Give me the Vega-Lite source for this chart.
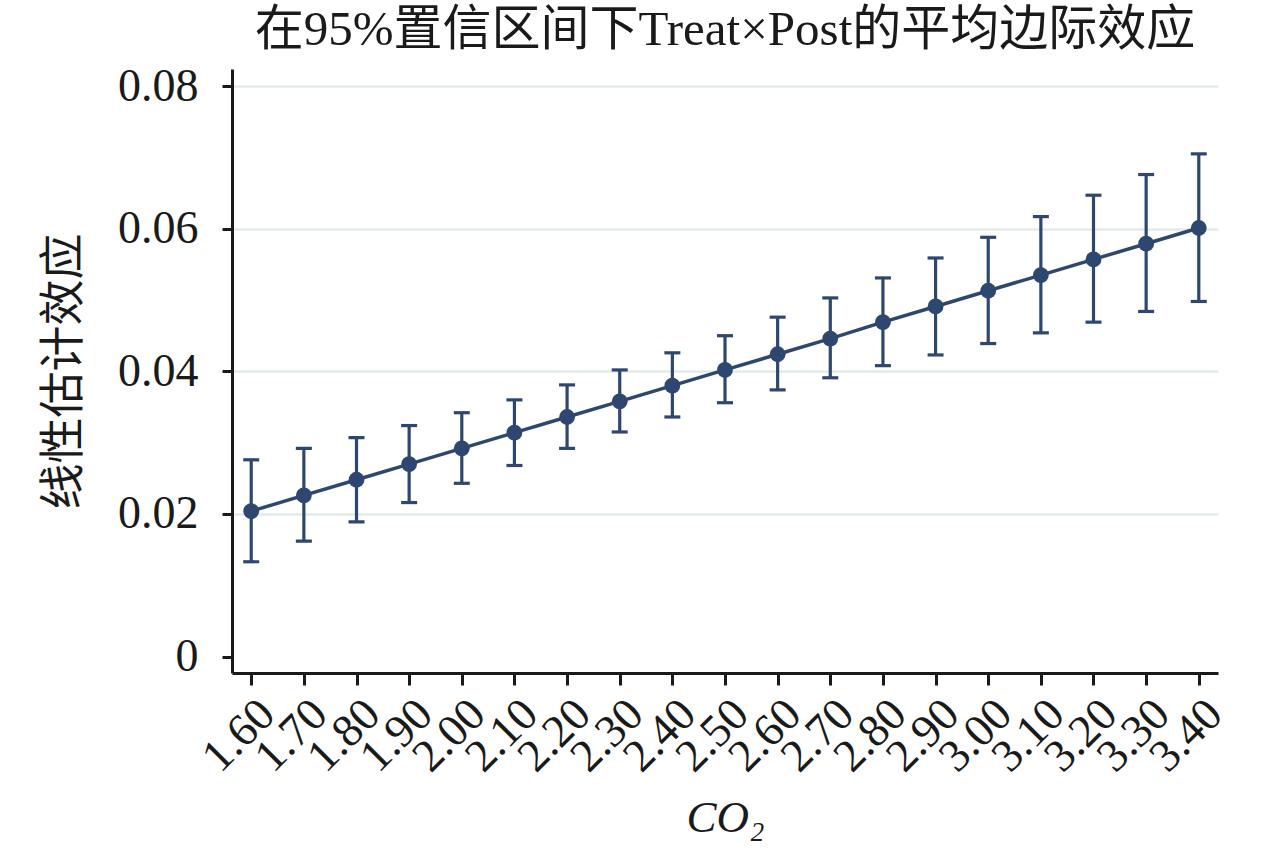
{
  "$schema": "https://vega.github.io/schema/vega-lite/v6.json",
  "width": 986,
  "height": 604,
  "autosize": "none",
  "padding": {"left": 232, "top": 69, "right": 62, "bottom": 188},
  "background": "white",
  "config": {
    "font": "Liberation Serif, Noto Sans CJK SC",
    "view": {"stroke": null},
    "axis": {"labelFont": "Liberation Serif, Noto Sans CJK SC", "titleFont": "Liberation Serif, Noto Sans CJK SC"}
  },
  "title": {
    "text": "在95%置信区间下Treat×Post的平均边际效应",
    "font": "Liberation Serif, Noto Sans CJK SC",
    "fontSize": 49,
    "fontWeight": "normal",
    "color": "#1a1a1a",
    "anchor": "middle",
    "offset": 8
  },
  "data": {
    "values": [
      {"co2": 1.6, "est": 0.0204, "lo": 0.0133, "hi": 0.0276},
      {"co2": 1.7, "est": 0.0226, "lo": 0.0162, "hi": 0.0292},
      {"co2": 1.8, "est": 0.0248, "lo": 0.0189, "hi": 0.0307},
      {"co2": 1.9, "est": 0.0270, "lo": 0.0216, "hi": 0.0324},
      {"co2": 2.0, "est": 0.0292, "lo": 0.0243, "hi": 0.0342},
      {"co2": 2.1, "est": 0.0314, "lo": 0.0268, "hi": 0.0360},
      {"co2": 2.2, "est": 0.0336, "lo": 0.0292, "hi": 0.0381},
      {"co2": 2.3, "est": 0.0358, "lo": 0.0315, "hi": 0.0402},
      {"co2": 2.4, "est": 0.0380, "lo": 0.0336, "hi": 0.0426},
      {"co2": 2.5, "est": 0.0402, "lo": 0.0356, "hi": 0.0450},
      {"co2": 2.6, "est": 0.0424, "lo": 0.0374, "hi": 0.0476},
      {"co2": 2.7, "est": 0.0446, "lo": 0.0391, "hi": 0.0503},
      {"co2": 2.8, "est": 0.0469, "lo": 0.0408, "hi": 0.0531},
      {"co2": 2.9, "est": 0.0491, "lo": 0.0423, "hi": 0.0559},
      {"co2": 3.0, "est": 0.0513, "lo": 0.0439, "hi": 0.0588},
      {"co2": 3.1, "est": 0.0535, "lo": 0.0454, "hi": 0.0617},
      {"co2": 3.2, "est": 0.0557, "lo": 0.0469, "hi": 0.0647},
      {"co2": 3.3, "est": 0.0579, "lo": 0.0484, "hi": 0.0676},
      {"co2": 3.4, "est": 0.0601, "lo": 0.0498, "hi": 0.0705}
    ]
  },
  "encoding": {
    "x": {
      "field": "co2",
      "type": "quantitative",
      "scale": {"domain": [1.5635, 3.4365], "nice": false, "zero": false},
      "axis": {
        "title": "CO₂",
        "titleFontStyle": "italic",
        "titleFontSize": 45,
        "titleFontWeight": "normal",
        "titleColor": "#1a1a1a",
        "titlePadding": 16,
        "values": [1.6, 1.7, 1.8, 1.9, 2.0, 2.1, 2.2, 2.3, 2.4, 2.5, 2.6, 2.7, 2.8, 2.9, 3.0, 3.1, 3.2, 3.3, 3.4],
        "format": ".2f",
        "labelAngle": -45,
        "labelAlign": "right",
        "labelBaseline": "top",
        "labelFontSize": 46,
        "labelColor": "#1a1a1a",
        "labelPadding": 6,
        "labelOverlap": false,
        "labelFlush": false,
        "grid": false,
        "domainColor": "#1a1a1a",
        "domainWidth": 3,
        "tickColor": "#1a1a1a",
        "tickWidth": 3,
        "tickSize": 12
      }
    }
  },
  "layer": [
    {
      "mark": {"type": "rule", "color": "#2e4770", "strokeWidth": 3.2, "opacity": 1},
      "encoding": {
        "y": {
          "field": "lo",
          "type": "quantitative",
          "scale": {"domain": [-0.0023, 0.0824], "nice": false, "zero": false},
          "axis": {
            "title": "线性估计效应",
            "titleFontSize": 46,
            "titleFontWeight": "normal",
            "titleColor": "#1a1a1a",
            "titlePadding": 30,
            "values": [0, 0.02, 0.04, 0.06, 0.08],
            "labelExpr": "datum.value == 0 ? '0' : format(datum.value, '.2f')",
            "labelFontSize": 46,
            "labelColor": "#1a1a1a",
            "labelPadding": 24,
            "labelFlush": false,
            "grid": true,
            "gridColor": "#e3ebe9",
            "gridWidth": 2.5,
            "gridOpacity": {"condition": {"test": "datum.value == 0", "value": 0}, "value": 1},
            "domainColor": "#1a1a1a",
            "domainWidth": 3,
            "tickColor": "#1a1a1a",
            "tickWidth": 3,
            "tickSize": 10
          }
        },
        "y2": {"field": "hi"}
      }
    },
    {
      "mark": {"type": "tick", "orient": "horizontal", "color": "#2e4770", "size": 16, "thickness": 3.2, "opacity": 1},
      "encoding": {"y": {"field": "lo", "type": "quantitative"}}
    },
    {
      "mark": {"type": "tick", "orient": "horizontal", "color": "#2e4770", "size": 16, "thickness": 3.2, "opacity": 1},
      "encoding": {"y": {"field": "hi", "type": "quantitative"}}
    },
    {
      "mark": {"type": "line", "color": "#2e4770", "strokeWidth": 3.5, "opacity": 1},
      "encoding": {"y": {"field": "est", "type": "quantitative"}}
    },
    {
      "mark": {"type": "point", "filled": true, "color": "#2e4770", "opacity": 1, "size": 250},
      "encoding": {"y": {"field": "est", "type": "quantitative"}}
    }
  ]
}
